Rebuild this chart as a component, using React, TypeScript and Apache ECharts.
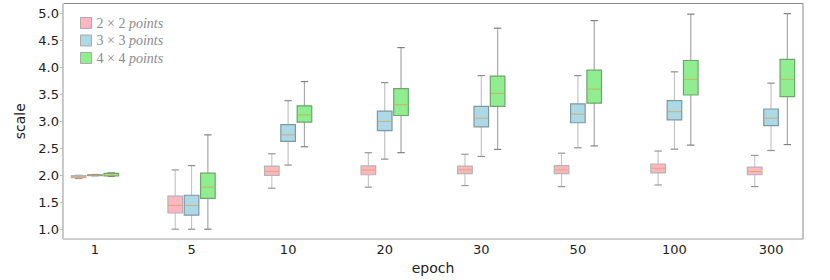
import React, { useEffect, useRef } from "react";
import * as echarts from "echarts";

const epochs = ["1", "5", "10", "20", "30", "50", "100", "300"];
const seriesNames = ["2 × 2 points", "3 × 3 points", "4 × 4 points"];

// [min, q1, median, q3, max] per epoch
const stats2x2 = [
  [1.94, 1.955, 1.975, 1.995, 2.0],
  [1.0, 1.3, 1.44, 1.615, 2.1],
  [1.76, 2.0, 2.07, 2.17, 2.4],
  [1.78, 2.01, 2.1, 2.175, 2.42],
  [1.81, 2.03, 2.1, 2.17, 2.39],
  [1.79, 2.03, 2.1, 2.18, 2.41],
  [1.82, 2.045, 2.13, 2.21, 2.45],
  [1.79, 2.01, 2.07, 2.15, 2.37],
];
const stats3x3 = [
  [1.99, 1.995, 2.0, 2.01, 2.015],
  [1.0, 1.26, 1.44, 1.63, 2.18],
  [2.19, 2.63, 2.75, 2.94, 3.385],
  [2.3, 2.83, 3.0, 3.19, 3.72],
  [2.35, 2.9, 3.06, 3.28, 3.85],
  [2.51, 2.975, 3.135, 3.325, 3.85],
  [2.485, 3.03, 3.18, 3.385, 3.92],
  [2.46, 2.92, 3.06, 3.23, 3.71],
];
const stats4x4 = [
  [1.98, 1.99, 2.0, 2.035, 2.045],
  [1.0, 1.57, 1.78, 2.04, 2.75],
  [2.53, 2.985, 3.12, 3.29, 3.74],
  [2.42, 3.11, 3.31, 3.61, 4.37],
  [2.48, 3.28, 3.52, 3.84, 4.73],
  [2.545, 3.34, 3.6, 3.95, 4.87],
  [2.56, 3.49, 3.78, 4.13, 4.99],
  [2.57, 3.46, 3.78, 4.15, 5.0],
];
const yTicks = [1.0, 1.5, 2.0, 2.5, 3.0, 3.5, 4.0, 4.5, 5.0];

const styles = [
  { fill: "#ffb6c1", stroke: "#b4b4b4", whisker: "#c8c8c8", cap: "#999999", offset: -0.169 },
  { fill: "#add8e6", stroke: "#7f97a0", whisker: "#c4c4c4", cap: "#8f8f8f", offset: 0 },
  { fill: "#90ee90", stroke: "#6fa46f", whisker: "#a8a8a8", cap: "#808080", offset: 0.169 },
];
const allStats = [stats2x2, stats3x3, stats4x4];

export default function App() {
  const ref = useRef<HTMLDivElement>(null);
  useEffect(() => {
    if (!ref.current) return;
    const chart = echarts.init(ref.current, null, { renderer: "svg" });
    const series = allStats.map((stats, si) => {
      const st = styles[si];
      return {
        type: "custom",
        name: seriesNames[si],
        itemStyle: { color: st.fill },
        encode: { x: 0, y: [1, 2, 3, 4, 5] },
        data: stats.map((s, i) => [i, ...s]),
        renderItem: (params: any, api: any) => {
          const x = api.value(0) + st.offset;
          const mn = api.value(1), q1 = api.value(2), md = api.value(3), q3 = api.value(4), mx = api.value(5);
          const cx = api.coord([x, md])[0];
          const yv = (v: number) => api.coord([x, v])[1];
          const hw = 7.3;
          const cw = 3.7;
          return {
            type: "group",
            children: [
              { type: "line", shape: { x1: cx, y1: yv(q3), x2: cx, y2: yv(mx) }, style: { stroke: st.whisker, lineWidth: 1.2 } },
              { type: "line", shape: { x1: cx, y1: yv(q1), x2: cx, y2: yv(mn) }, style: { stroke: st.whisker, lineWidth: 1.2 } },
              { type: "line", shape: { x1: cx - cw, y1: yv(mx), x2: cx + cw, y2: yv(mx) }, style: { stroke: st.cap, lineWidth: 1.2 } },
              { type: "line", shape: { x1: cx - cw, y1: yv(mn), x2: cx + cw, y2: yv(mn) }, style: { stroke: st.cap, lineWidth: 1.2 } },
              {
                type: "rect",
                shape: { x: cx - hw, y: yv(q3), width: hw * 2, height: Math.max(yv(q1) - yv(q3), 0.8) },
                style: { fill: st.fill, stroke: st.stroke, lineWidth: 1.2 },
              },
              { type: "line", shape: { x1: cx - hw + 0.6, y1: yv(md), x2: cx + hw - 0.6, y2: yv(md) }, style: { stroke: "rgba(215,165,80,0.75)", lineWidth: 1 } },
            ],
          };
        },
      };
    });
    chart.setOption({
      animation: false,
      grid: { left: 63, right: 27, top: 3.5, bottom: 32, show: true, borderColor: "#8a8a8a", borderWidth: 1 },
      legend: {
        orient: "vertical",
        left: 80,
        top: 16,
        padding: 0,
        itemWidth: 11,
        itemHeight: 11,
        itemGap: 3.5,
        data: seriesNames.map((n, i) => ({
          name: n,
          icon: "rect",
          itemStyle: { color: styles[i].fill, borderColor: "#aaaaaa", borderWidth: 1 },
        })),
        formatter: (name: string) => {
          const parts = name.split(" points");
          return `{a|${parts[0]} }{b|points}`;
        },
        textStyle: {
          padding: [0, 0, 0, 0],
          rich: {
            a: { fontFamily: "Liberation Serif", fontSize: 14, color: "#8c8c8c" },
            b: { fontFamily: "Liberation Serif", fontSize: 14, fontStyle: "italic", color: "#8c8c8c" },
          },
        },
      },
      xAxis: {
        type: "value",
        min: -0.331,
        max: 7.331,
        name: "epoch",
        nameLocation: "middle",
        nameGap: 15,
        nameTextStyle: { fontFamily: "DejaVu Sans", fontSize: 14, color: "#222" },
        axisLine: { show: true, onZero: false, lineStyle: { color: "#cccccc", width: 1 } },
        axisTick: { show: false },
        splitLine: { show: false },
        axisLabel: {
          customValues: epochs.map((_, i) => i),
          formatter: (v: number) => epochs[Math.round(v)] ?? "",
          fontFamily: "DejaVu Sans",
          fontSize: 13,
          color: "#222",
          margin: 4,
        },
      },
      yAxis: {
        type: "value",
        min: 0.816,
        max: 5.188,
        name: "scale",
        nameLocation: "middle",
        nameGap: 26,
        nameTextStyle: { fontFamily: "DejaVu Sans", fontSize: 14, color: "#222" },
        axisLine: { show: true, onZero: false, lineStyle: { color: "#cccccc", width: 1 } },
        axisTick: { show: true, length: 3, lineStyle: { color: "#bbbbbb" }, customValues: yTicks },
        splitLine: { show: false },
        axisLabel: {
          customValues: yTicks,
          formatter: (v: number) => v.toFixed(1),
          fontFamily: "DejaVu Sans",
          fontSize: 13,
          color: "#222",
          margin: 4,
        },
      },
      series,
    });
    return () => chart.dispose();
  }, []);
  return <div ref={ref} style={{ position: "absolute", left: 0, top: 0, width: 830, height: 280 }} />;
}
